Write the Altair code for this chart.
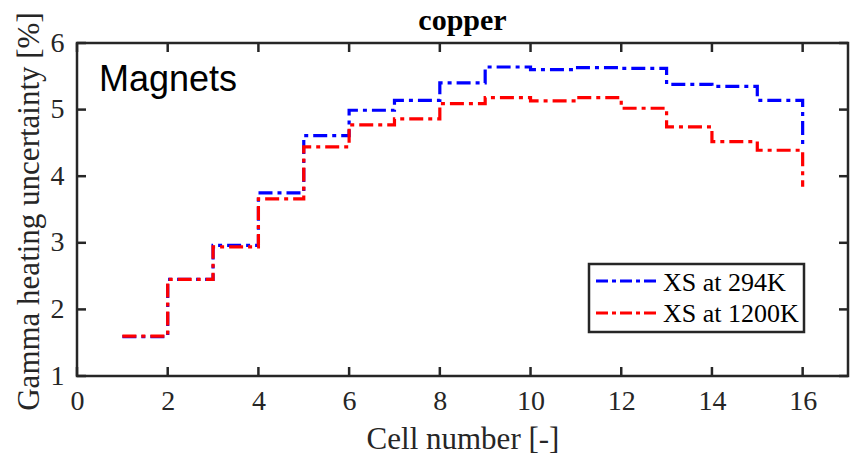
import altair as alt
import pandas as pd

cells = list(range(1, 17))
xs_294 = [1.59, 2.45, 2.96, 3.75, 4.61, 4.99, 5.14, 5.40, 5.64, 5.60, 5.63, 5.62, 5.38, 5.35, 5.14, 4.42]
xs_1200 = [1.60, 2.45, 2.94, 3.66, 4.44, 4.77, 4.86, 5.09, 5.18, 5.13, 5.18, 5.02, 4.74, 4.52, 4.39, 3.84]
series_names = ["XS at 294K", "XS at 1200K"]
series_colors = ["#0000ff", "#ff0000"]
x_ticks = [0, 2, 4, 6, 8, 10, 12, 14, 16]
y_ticks = [1, 2, 3, 4, 5, 6]

W, H = 771, 333
AX = "#262626"
SERIF = "Liberation Serif"
DASH = [14, 5, 4, 5]

df = pd.concat([
    pd.DataFrame({"cell": cells, "value": xs_294, "series": series_names[0]}),
    pd.DataFrame({"cell": cells, "value": xs_1200, "series": series_names[1]}),
])

xscale = alt.Scale(domain=[0, 17], nice=False, zero=False)
yscale = alt.Scale(domain=[1, 6], nice=False, zero=False)

lines = alt.Chart(df).mark_line(
    interpolate="step-after", strokeWidth=3.2, strokeDash=DASH
).encode(
    x=alt.X("cell:Q", scale=xscale,
            axis=alt.Axis(values=x_ticks, format="d", title="Cell number [-]", domain=False,
                          ticks=False, grid=False, labelFont=SERIF, labelFontSize=28,
                          labelColor=AX, labelPadding=11, labelFlush=False,
                          titleFont=SERIF, titleFontSize=31,
                          titleFontWeight="normal", titleColor=AX, titleY=72,
                          titleBaseline="alphabetic")),
    y=alt.Y("value:Q", scale=yscale,
            axis=alt.Axis(values=y_ticks, format="d", title="Gamma heating uncertainty [%]",
                          domain=False, ticks=False, grid=False, labelFont=SERIF,
                          labelFontSize=28, labelColor=AX, labelPadding=13, labelFlush=False,
                          titleFont=SERIF,
                          titleFontSize=31, titleFontWeight="normal", titleColor=AX,
                          titleX=-48, titleY=168, titleAngle=270, titleAlign="center",
                          titleBaseline="middle")),
    color=alt.Color("series:N", scale=alt.Scale(domain=series_names, range=series_colors),
                    legend=None),
    detail="series:N",
)

xt = pd.DataFrame({"t": x_ticks})
yt = pd.DataFrame({"t": y_ticks})
tick_style = dict(color=AX, strokeWidth=2.5)
bx = alt.Chart(xt).mark_rule(**tick_style).encode(
    x=alt.X("t:Q", scale=xscale), y=alt.value(H), y2=alt.value(H - 9))
tx = alt.Chart(xt).mark_rule(**tick_style).encode(
    x=alt.X("t:Q", scale=xscale), y=alt.value(0), y2=alt.value(9))
ly = alt.Chart(yt).mark_rule(**tick_style).encode(
    y=alt.Y("t:Q", scale=yscale), x=alt.value(0), x2=alt.value(9))
ry = alt.Chart(yt).mark_rule(**tick_style).encode(
    y=alt.Y("t:Q", scale=yscale), x=alt.value(W - 9), x2=alt.value(W))

one = pd.DataFrame({"k": [0]})
label = alt.Chart(pd.DataFrame({"txt": ["Magnets"]})).mark_text(
    font="Liberation Sans", fontSize=36, align="left", baseline="alphabetic", color="black"
).encode(text="txt:N", x=alt.value(22), y=alt.value(48))

title = alt.Chart(pd.DataFrame({"txt": ["copper"]})).mark_text(
    font=SERIF, fontSize=30, fontWeight="bold", align="center", baseline="alphabetic",
    color="black"
).encode(text="txt:N", x=alt.value(W / 2), y=alt.value(-13))

# legend box (drawn by hand, MATLAB-style)
legend_layers = [
    alt.Chart(one).mark_rect(fill="white", stroke=AX, strokeWidth=2.5).encode(
        x=alt.value(512), x2=alt.value(727), y=alt.value(221), y2=alt.value(289))
]
row_line_y = [238, 270]
row_text_y = [248, 279]
for name, col, ly_, ty_ in zip(series_names, series_colors, row_line_y, row_text_y):
    d = pd.DataFrame({"series": [name]})
    legend_layers.append(
        alt.Chart(d).mark_rule(color=col, strokeWidth=3.2, strokeDash=[12, 4, 4, 4]).encode(
            x=alt.value(519), x2=alt.value(581), y=alt.value(ly_))
    )
    legend_layers.append(
        alt.Chart(d).mark_text(font=SERIF, fontSize=26, align="left", baseline="alphabetic",
                               color="black").encode(
            text="series:N", x=alt.value(586), y=alt.value(ty_))
    )

chart = alt.layer(lines, bx, tx, ly, ry, label, title, *legend_layers).properties(
    width=W, height=H,
    background="white",
    autosize=alt.AutoSizeParams(type="none"),
    padding={"left": 77, "top": 43, "right": 8, "bottom": 82},
).configure_view(stroke=AX, strokeWidth=2.5)

chart.save("out.html", embed_options={"renderer": "svg", "actions": False})
